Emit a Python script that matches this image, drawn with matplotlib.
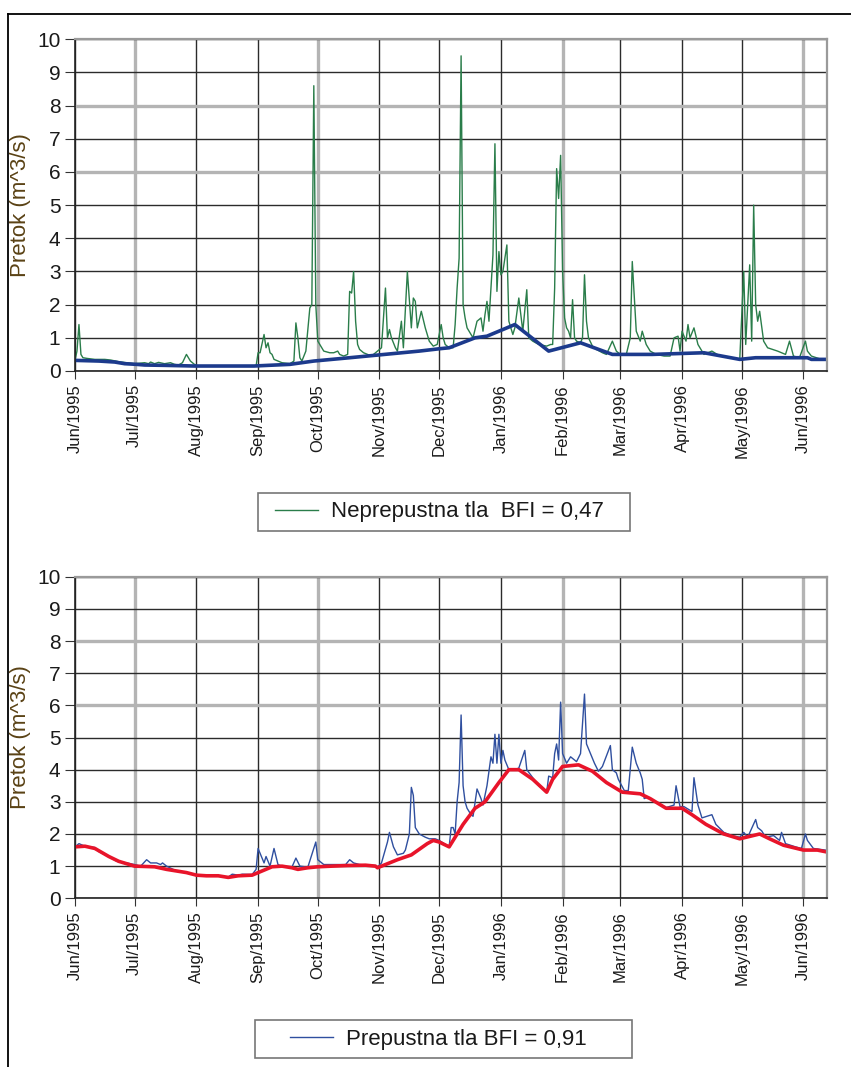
import pandas as pd
import matplotlib.pyplot as plt
import matplotlib.dates as mdates
from matplotlib.lines import Line2D
from matplotlib.patches import Rectangle

plt.rcParams['font.family'] = ['Liberation Sans', 'DejaVu Sans']

# dates are given as day offsets from 1 Jun 1995
start = pd.Timestamp("1995-06-01")
x_end = pd.Timestamp("1996-06-12 16:00")
month_ticks = pd.date_range("1995-06-01", "1996-06-01", freq="MS")

# --- top chart: impermeable soil (green) + baseflow (navy)
g_day = [0, 1, 2, 3, 4, 6, 10, 15, 18, 22, 30,
         35, 37, 38, 40, 42, 45, 48, 50, 52, 54, 56, 58, 60, 62, 70, 80, 91,
         92, 93, 95, 96, 97, 98, 99, 100, 102, 104, 108, 110, 111, 112, 113, 114, 116, 118, 119, 120, 121,
         122, 123, 125, 128, 130, 132, 133, 135, 137, 138, 139, 140, 141, 142, 143, 145, 147, 149,
         154, 156, 157, 158, 159, 161, 162, 164, 165, 167, 169, 170, 171, 172, 174, 176, 178, 180, 182,
         184, 185, 186, 188, 190, 191, 192, 193, 194, 195, 196, 197, 199, 200, 202, 204, 205, 206, 207, 208, 210, 211, 212,
         213, 214, 215, 217, 218, 220, 221, 223, 225, 227, 228, 230, 233, 237, 239, 240, 241, 242, 243,
         244, 245, 246, 247, 248, 249, 250, 251, 252, 254, 255, 256, 257, 258, 260, 262, 265, 267, 270, 272,
         274, 277, 279, 280, 282, 284, 285, 287, 289, 292, 296, 299, 301, 303, 304,
         305, 307, 308, 309, 311, 313, 316, 320, 324, 330, 334,
         336, 337, 339, 340, 341, 342, 343, 344, 346, 348, 353, 357, 359, 361, 364,
         367, 368, 370, 375, 377]
g_val = [0.32, 0.6, 1.4, 0.5, 0.4, 0.38, 0.35, 0.35, 0.33, 0.28, 0.22,
         0.25, 0.22, 0.27, 0.22, 0.26, 0.22, 0.25, 0.2, 0.18, 0.25, 0.5, 0.3, 0.2, 0.15, 0.15, 0.15, 0.15,
         0.55, 0.55, 1.1, 0.7, 0.85, 0.55, 0.5, 0.35, 0.3, 0.25, 0.22, 0.3, 1.45, 1.0, 0.4, 0.3, 0.6, 1.9, 2.0, 8.6, 2.0,
         0.9, 0.8, 0.6, 0.55, 0.55, 0.6, 0.5, 0.45, 0.5, 2.4, 2.35, 3.0, 1.5, 0.8, 0.65, 0.55, 0.5, 0.45,
         0.7, 2.5, 1.0, 1.25, 1.0, 0.7, 0.6, 1.5, 0.7, 3.0, 1.3, 2.2, 2.1, 1.3, 1.8, 1.3, 0.9, 0.75, 0.8,
         1.4, 1.0, 0.8, 0.7, 0.7, 1.4, 2.5, 3.4, 9.5, 2.0, 1.6, 1.3, 1.1, 1.0, 1.5, 1.6, 1.2, 1.7, 2.1, 1.5, 3.5, 6.85, 2.4,
         3.6, 2.9, 3.0, 3.8, 1.5, 1.1, 1.3, 2.2, 1.2, 2.45, 1.0, 0.9, 0.8, 0.75, 0.8, 0.8, 2.5, 6.1, 5.2,
         6.5, 3.0, 1.6, 1.3, 1.2, 1.0, 2.15, 1.0, 0.9, 0.85, 1.0, 2.9, 1.5, 1.0, 0.75, 0.65, 0.55, 0.5, 0.9, 0.6,
         0.5, 0.5, 1.0, 3.3, 1.2, 0.9, 1.2, 0.8, 0.6, 0.5, 0.45, 0.45, 1.0, 1.05, 0.6,
         1.2, 0.9, 1.4, 1.0, 1.3, 0.8, 0.5, 0.6, 0.45, 0.4, 0.35,
         3.0, 0.8, 3.2, 0.9, 5.0, 2.0, 1.5, 1.8, 0.9, 0.7, 0.6, 0.5, 0.9, 0.45, 0.4,
         0.9, 0.6, 0.45, 0.35, 0.35]

bf1_day = [0, 12, 20, 25, 31, 35, 45, 60, 90, 97, 108, 120, 138, 152, 173, 183, 188,
           201, 207, 221, 238, 254, 270, 290, 316, 334, 342, 368, 370, 377]
bf1_val = [0.32, 0.3, 0.27, 0.22, 0.2, 0.18, 0.17, 0.15, 0.15, 0.17, 0.2, 0.3, 0.4, 0.48, 0.6, 0.67, 0.7,
           1.0, 1.05, 1.4, 0.6, 0.85, 0.5, 0.5, 0.55, 0.35, 0.4, 0.4, 0.35, 0.35]

# --- bottom chart: permeable soil (blue) + baseflow (red)
b_day = [0, 2, 5, 10, 12, 17, 21, 26, 30, 33, 36, 38, 41, 43, 44, 46,
         51, 56, 61, 66, 72, 77, 79, 82, 84, 89,
         91, 92, 95, 96, 98, 100, 102, 104, 109, 111, 113, 117, 121, 122, 125, 129,
         136, 138, 140, 143, 151, 152, 154, 157, 158, 160, 162, 165, 166, 168, 169, 170, 171, 173, 176, 178, 181,
         183, 188, 189, 190, 191, 192, 193, 194, 195, 196, 197, 199, 200, 202, 204, 205, 207, 209, 210, 211, 212,
         213, 214, 215, 216, 218, 221, 223, 226, 227, 230, 233, 237, 238, 240, 241, 242, 243,
         244, 245, 247, 249, 252, 254, 256, 257, 259, 261, 263, 265, 269, 270, 272, 273,
         276, 278, 280, 282, 284, 285, 286, 288, 290, 297, 301, 302, 304,
         306, 310, 311, 313, 315, 320, 322, 326, 330, 334,
         336, 338, 342, 343, 345, 347, 351, 354, 355, 357, 362, 365,
         367, 368, 371, 377]
b_val = [1.6, 1.7, 1.62, 1.58, 1.45, 1.3, 1.15, 1.1, 1.05, 1.0, 1.2, 1.1, 1.1, 1.05, 1.1, 1.0,
         0.85, 0.8, 0.72, 0.7, 0.7, 0.66, 0.75, 0.72, 0.75, 0.74,
         0.9, 1.55, 1.1, 1.3, 1.0, 1.55, 1.05, 1.0, 0.97, 1.25, 1.0, 0.97, 1.75, 1.2, 1.05, 1.05,
         1.05, 1.2, 1.1, 1.05, 1.02, 0.97, 1.1, 1.75, 2.05, 1.6, 1.35, 1.4, 1.5, 2.0, 3.45, 3.2, 2.2, 2.0, 1.9, 1.85, 1.85,
         1.8, 1.6, 2.2, 2.2, 2.0, 3.0, 3.6, 5.7, 3.5, 3.0, 2.8, 2.6, 2.55, 3.4, 3.1, 2.9, 3.5, 4.4, 4.2, 5.1, 4.2,
         5.1, 4.2, 4.6, 4.3, 4.0, 4.0, 4.05, 4.6, 4.0, 3.75, 3.5, 3.3, 3.8, 3.75, 4.5, 4.8, 4.3,
         6.1, 4.5, 4.2, 4.4, 4.25, 4.5, 6.35, 4.8, 4.5, 4.2, 3.95, 4.1, 4.75, 4.0, 3.9, 3.7,
         3.35, 3.35, 4.7, 4.2, 3.9, 3.7, 3.1, 3.15, 3.05, 2.82, 2.9, 3.5, 2.85,
         2.85, 2.7, 3.75, 2.9, 2.5, 2.6, 2.3, 2.05, 1.95, 1.9,
         2.05, 1.9, 2.45, 2.2, 2.1, 1.9, 1.95, 1.8, 2.05, 1.7, 1.6, 1.55,
         2.0, 1.8, 1.55, 1.5]

bf2_day = [0, 5, 10, 17, 22, 30, 40, 46, 51, 56, 61, 66, 72, 77, 82, 89, 94, 99, 104, 109, 112, 117,
           122, 129, 137, 146, 151, 152, 156, 162, 169, 177, 180, 183, 188, 195, 201, 206, 213, 218, 223,
           230, 237, 240, 245, 253, 260, 267, 275, 284, 289, 297, 305, 310, 317, 326, 334, 344, 349,
           356, 366, 373, 377]
bf2_val = [1.6, 1.62, 1.55, 1.3, 1.15, 1.0, 0.98, 0.9, 0.85, 0.8, 0.72, 0.7, 0.7, 0.65, 0.7, 0.72, 0.85,
           0.98, 1.0, 0.95, 0.9, 0.95, 0.98, 1.0, 1.02, 1.03, 1.0, 0.95, 1.05, 1.2, 1.35, 1.7, 1.8, 1.75,
           1.6, 2.3, 2.8, 3.0, 3.6, 4.0, 4.0, 3.7, 3.3, 3.7, 4.1, 4.15, 3.95, 3.6, 3.3, 3.25, 3.1, 2.8,
           2.8, 2.6, 2.3, 2.0, 1.85, 2.0, 1.85, 1.65, 1.5, 1.5, 1.45]

y_ticks = list(range(0, 11))


def to_dates(days):
    return start + pd.to_timedelta(days, unit="D")


def style_axes(ax):
    ax.set_xlim(start, x_end)
    ax.set_ylim(0, 10)
    ax.set_yticks(y_ticks)
    ax.set_xticks(month_ticks)
    ax.xaxis.set_major_formatter(mdates.DateFormatter("%b/%Y"))
    ax.tick_params(axis="x", rotation=90, labelsize=12, length=6, color="#333333",
                   labelcolor="#1a1a1a")
    ax.tick_params(axis="y", labelsize=15, length=7, color="#333333", labelcolor="#1a1a1a")
    ax.grid(True, color="#2b2b2b", linewidth=1.0)
    ax.set_axisbelow(True)
    # the light, thicker grid lines of the original picture
    xg = ax.get_xgridlines()
    for i in (1, 4, 8, 12):
        xg[i].set_color("#b4b4b4")
        xg[i].set_linewidth(2.4)
    yg = ax.get_ygridlines()
    for i in (6, 8):
        yg[i].set_color("#b4b4b4")
        yg[i].set_linewidth(2.4)
    for s in ("top", "right"):
        ax.spines[s].set_color("#9a9a9a")
        ax.spines[s].set_linewidth(1.6)
    for s in ("left", "bottom"):
        ax.spines[s].set_color("#222222")
        ax.spines[s].set_linewidth(1.2)
    ax.set_ylabel("Pretok (m^3/s)", fontsize=16, color="#5a4215", labelpad=4)


fig = plt.figure(figsize=(8.51, 10.67), dpi=100)
ax1 = fig.add_axes([0.0881, 0.6523, 0.8833, 0.3109])
ax2 = fig.add_axes([0.0881, 0.1581, 0.8833, 0.3014])

ax1.plot(to_dates(g_day), g_val, color="#2a7d4a", linewidth=1.0,
         label="Neprepustna tla  BFI = 0,47")
ax1.plot(to_dates(bf1_day), bf1_val, color="#1c3a8c", linewidth=2.6)
style_axes(ax1)

ax2.plot(to_dates(b_day), b_val, color="#2f4f9f", linewidth=1.0,
         label="Prepustna tla BFI = 0,91")
ax2.plot(to_dates(bf2_day), bf2_val, color="#e8142a", linewidth=2.6)
style_axes(ax2)

# legend boxes in pixels of the 851x1067 picture: (left, top, right, bottom, handle start)
leg_boxes = [(258, 493, 630, 531, 275), (255, 1020, 632, 1058, 290)]
W, H = 851, 1067
for ax, (x0, y0, x1, y1, hx) in zip((ax1, ax2), leg_boxes):
    fig.add_artist(Rectangle((x0 / W, 1 - y1 / H), (x1 - x0) / W, (y1 - y0) / H,
                             transform=fig.transFigure, facecolor="white",
                             edgecolor="#777777", linewidth=1.2))
    h, l = ax.get_legend_handles_labels()
    leg = fig.legend(h, l, loc="center left", bbox_to_anchor=(hx / W, 1 - (y0 + y1) / 2 / H),
                     prop={"size": 16}, frameon=False, borderpad=0, borderaxespad=0,
                     handlelength=1.95, handletextpad=0.55)
    for t in leg.get_texts():
        t.set_color("#1a1a1a")

# outer frame (top and left edges only)
fig.add_artist(Line2D([8 / W, 1.0], [1 - 14 / H, 1 - 14 / H], color="black", linewidth=1.3))
fig.add_artist(Line2D([8 / W, 8 / W], [0.0, 1 - 14 / H], color="black", linewidth=1.3))

fig.savefig("out.png", dpi=100)
